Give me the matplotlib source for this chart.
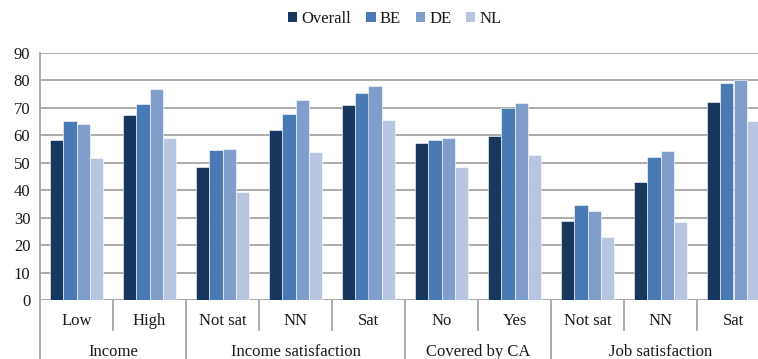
import matplotlib
matplotlib.use("Agg")
import matplotlib.pyplot as plt
import matplotlib.transforms as mtransforms
from matplotlib.patches import Patch
import numpy as np

plt.rcParams['font.family'] = ['Liberation Serif', 'DejaVu Serif']

# Category structure
subcategories = ["Low", "High", "Not sat", "NN", "Sat", "No", "Yes", "Not sat", "NN", "Sat"]
groups = ["Income", "Income satisfaction", "Covered by CA", "Job satisfaction"]
group_sizes = [2, 3, 2, 3]

series_names = ["Overall", "BE", "DE", "NL"]
overall = [58.2, 67.4, 48.4, 61.8, 71.0, 57.1, 59.9, 28.7, 43.1, 72.3]
be      = [65.1, 71.3, 54.7, 67.9, 75.3, 58.4, 70.1, 34.7, 52.1, 79.1]
de      = [64.0, 76.9, 54.9, 72.9, 78.0, 58.9, 71.8, 32.4, 54.3, 80.2]
nl      = [51.7, 59.0, 39.4, 53.8, 65.6, 48.4, 53.0, 23.0, 28.5, 65.2]
colors = ["#17375E", "#4A7AB3", "#7F9ECB", "#B7C5E0"]
text_color = "#1A1A1A"

W, H = 758, 359
fig = plt.figure(figsize=(W / 100, H / 100), dpi=100)
ax = fig.add_axes([40 / W, (H - 300) / H, 730 / W, 247 / H])

n = len(subcategories)
x = np.arange(n)
bw = 0.181
for i, (vals, col) in enumerate(zip([overall, be, de, nl], colors)):
    ax.bar(x - 1.5 * bw + i * bw, vals, width=bw, color=col,
           edgecolor="white", linewidth=0.4, zorder=3)

ax.set_xlim(-0.5, n - 0.5)
ax.set_ylim(0, 90)
ax.set_yticks(range(0, 91, 10))
ax.yaxis.grid(True, color="#A6A6A6", linewidth=1.3, zorder=0)
ax.set_axisbelow(True)
for s in ["top", "right", "bottom"]:
    ax.spines[s].set_visible(False)
ax.spines["left"].set_color("#A6A6A6")
ax.spines["left"].set_linewidth(1.3)
ax.tick_params(axis="y", length=0, pad=7, labelsize=12, colors=text_color)
ax.set_xticks([])

# Baseline
ax.axhline(0, color="#A6A6A6", linewidth=1.3, zorder=2)

trans = mtransforms.blended_transform_factory(ax.transData, ax.transAxes)
px = 1 / 247.0  # one pixel in axes-height units

# Subcategory labels and separators
for i, lab in enumerate(subcategories):
    ax.text(i, -21 * px, lab, transform=trans, ha="center", va="center",
            fontsize=12, color=text_color, clip_on=False)

boundaries = np.cumsum(group_sizes)
group_edges = set([0] + list(boundaries))
for b in range(0, n + 1):
    xb = b - 0.5
    bottom = -70 * px if b in group_edges else -30 * px
    ax.plot([xb, xb], [0, bottom], transform=trans, color="#A6A6A6",
            linewidth=1.3, clip_on=False)

# Group labels
start = 0
for g, size in zip(groups, group_sizes):
    center = start + (size - 1) / 2
    ax.text(center, -52 * px, g, transform=trans, ha="center", va="center",
            fontsize=12, color=text_color, clip_on=False)
    start += size

# Legend
handles = [Patch(facecolor=c, edgecolor="none") for c in colors]
leg = fig.legend(handles, series_names, loc="center", ncol=4,
                 bbox_to_anchor=(395 / W, 1 - 19 / H), frameon=False,
                 fontsize=12, handlelength=0.55, handleheight=0.55,
                 handletextpad=0.25, columnspacing=0.9, borderpad=0)
for t in leg.get_texts():
    t.set_color(text_color)

fig.savefig("out.png", dpi=100)
